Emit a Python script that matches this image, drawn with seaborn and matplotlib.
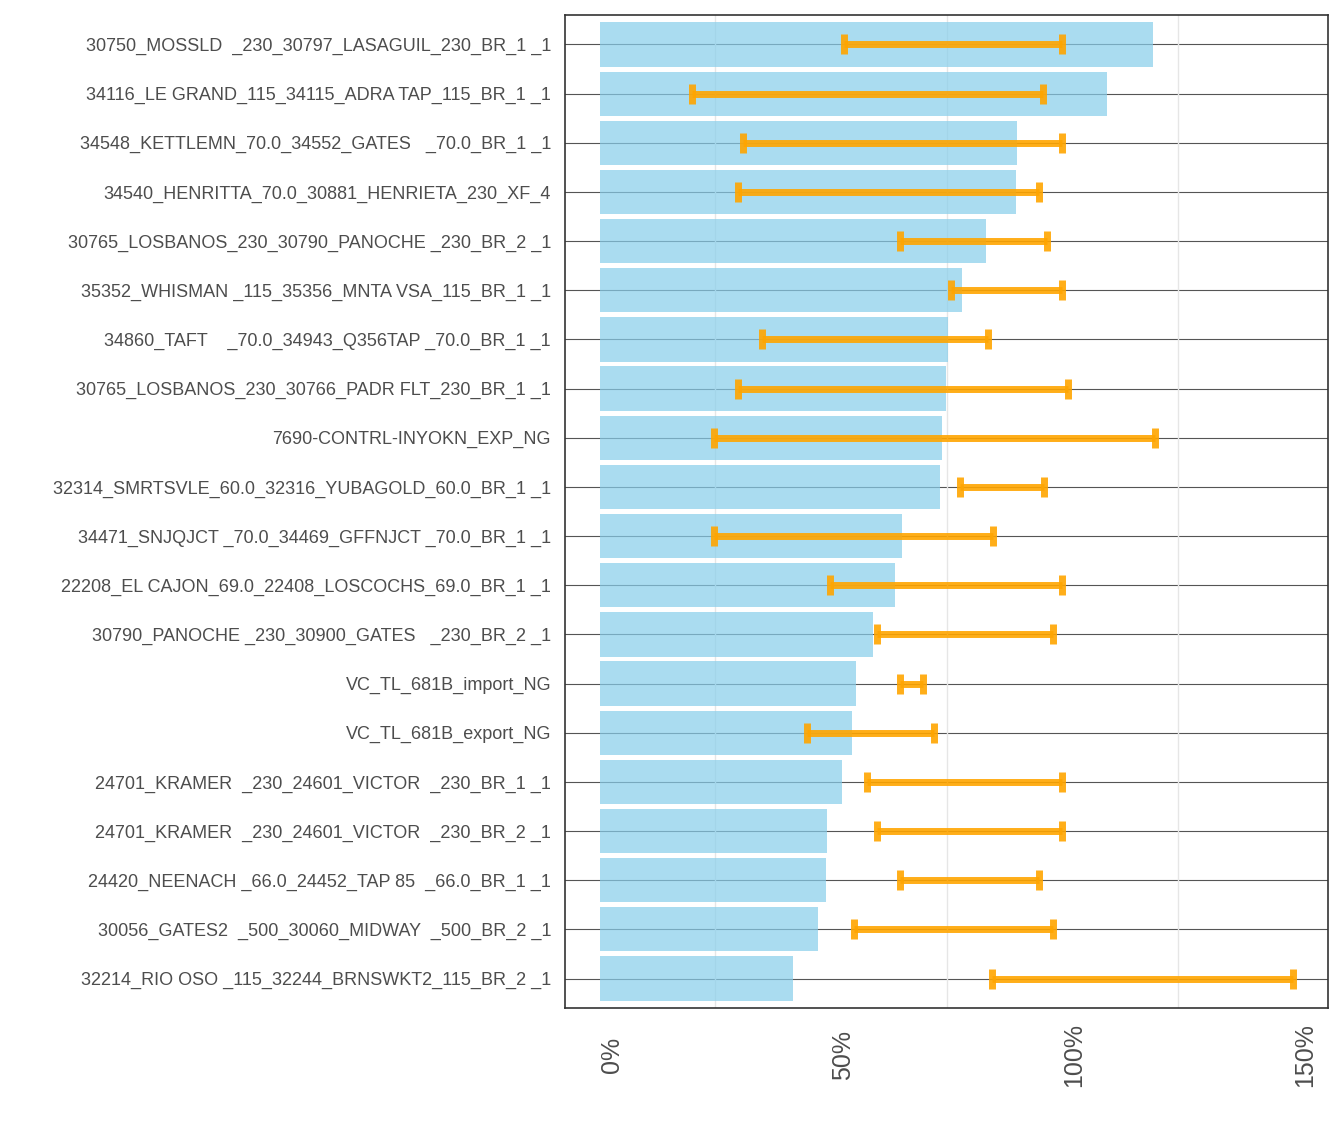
import numpy as np
import pandas as pd
import matplotlib
matplotlib.use("Agg")
import matplotlib.pyplot as plt
from matplotlib.ticker import FixedLocator, PercentFormatter
import seaborn as sns

# %%
# constraint names, top to bottom
names = [
    "30750_MOSSLD  _230_30797_LASAGUIL_230_BR_1 _1",
    "34116_LE GRAND_115_34115_ADRA TAP_115_BR_1 _1",
    "34548_KETTLEMN_70.0_34552_GATES   _70.0_BR_1 _1",
    "34540_HENRITTA_70.0_30881_HENRIETA_230_XF_4",
    "30765_LOSBANOS_230_30790_PANOCHE _230_BR_2 _1",
    "35352_WHISMAN _115_35356_MNTA VSA_115_BR_1 _1",
    "34860_TAFT    _70.0_34943_Q356TAP _70.0_BR_1 _1",
    "30765_LOSBANOS_230_30766_PADR FLT_230_BR_1 _1",
    "7690-CONTRL-INYOKN_EXP_NG",
    "32314_SMRTSVLE_60.0_32316_YUBAGOLD_60.0_BR_1 _1",
    "34471_SNJQJCT _70.0_34469_GFFNJCT _70.0_BR_1 _1",
    "22208_EL CAJON_69.0_22408_LOSCOCHS_69.0_BR_1 _1",
    "30790_PANOCHE _230_30900_GATES   _230_BR_2 _1",
    "VC_TL_681B_import_NG",
    "VC_TL_681B_export_NG",
    "24701_KRAMER  _230_24601_VICTOR  _230_BR_1 _1",
    "24701_KRAMER  _230_24601_VICTOR  _230_BR_2 _1",
    "24420_NEENACH _66.0_24452_TAP 85  _66.0_BR_1 _1",
    "30056_GATES2  _500_30060_MIDWAY  _500_BR_2 _1",
    "32214_RIO OSO _115_32244_BRNSWKT2_115_BR_2 _1",
]
# bar value (%)
value = [119.7, 109.7, 90.3, 90.1, 83.6, 78.4, 75.4, 74.9, 74.1, 73.7,
         65.4, 63.9, 59.0, 55.5, 54.6, 52.5, 49.2, 49.0, 47.3, 41.7]
# range low / high (%)
low = [52.9, 19.9, 30.9, 30.0, 65.0, 76.0, 35.0, 30.0, 24.8, 78.0,
       24.8, 49.9, 60.0, 65.0, 44.9, 57.9, 60.0, 65.0, 54.9, 84.9]
high = [100.0, 95.9, 100.0, 95.0, 96.8, 100.0, 84.0, 101.3, 120.1, 96.1,
        85.1, 100.0, 98.1, 70.0, 72.4, 100.0, 100.0, 95.0, 98.1, 150.0]

df = pd.DataFrame({"name": names, "value": value, "low": low, "high": high})

# %%
sns.set_style("white")
plt.rcParams['font.family'] = ['Liberation Sans', 'DejaVu Sans']

fig = plt.figure(figsize=(13.44, 11.42), dpi=100)
ax = fig.add_axes([565 / 1344, 1 - 1008 / 1142, (1328 - 565) / 1344, (1008 - 15) / 1142])

ypos = np.arange(len(df))
# horizontal grid lines
for y in ypos:
    ax.axhline(y, color='#555555', lw=0.8, zorder=0)
# minor vertical grid
for x in [25, 75, 125]:
    ax.axvline(x, color='#e6e6e6', lw=1, zorder=0)

sns.barplot(data=df, x="value", y="name", orient="h", color="skyblue",
            saturation=1, alpha=0.7, width=0.9, linewidth=0, ax=ax, zorder=1)

mid = (df["low"] + df["high"]) / 2
half = (df["high"] - df["low"]) / 2
ax.errorbar(mid, ypos, xerr=half, fmt='none', ecolor='orange', elinewidth=5,
            capsize=7.2, capthick=5, alpha=0.9, zorder=3)

ax.set_xlim(-7.5, 157.5)
ax.set_ylim(len(df) - 0.4, -0.6)
ax.xaxis.set_major_locator(FixedLocator([0, 50, 100, 150]))
ax.xaxis.set_major_formatter(PercentFormatter(decimals=0))
ax.set_xlabel("")
ax.set_ylabel("")
ax.tick_params(axis='x', labelrotation=90, labelsize=18, length=6, width=1.4, pad=28)
ax.tick_params(axis='y', labelsize=13, length=6, width=1.4, pad=4)
for lab in ax.get_xticklabels():
    lab.set_va('center')
    lab.set_ha('left')
for lab in ax.get_xticklabels() + ax.get_yticklabels():
    lab.set_color('#4d4d4d')
ax.tick_params(axis='both', color='#333333')
for s in ax.spines.values():
    s.set_color('#333333')
    s.set_linewidth(1.2)

plt.savefig('out.png', dpi=100)
